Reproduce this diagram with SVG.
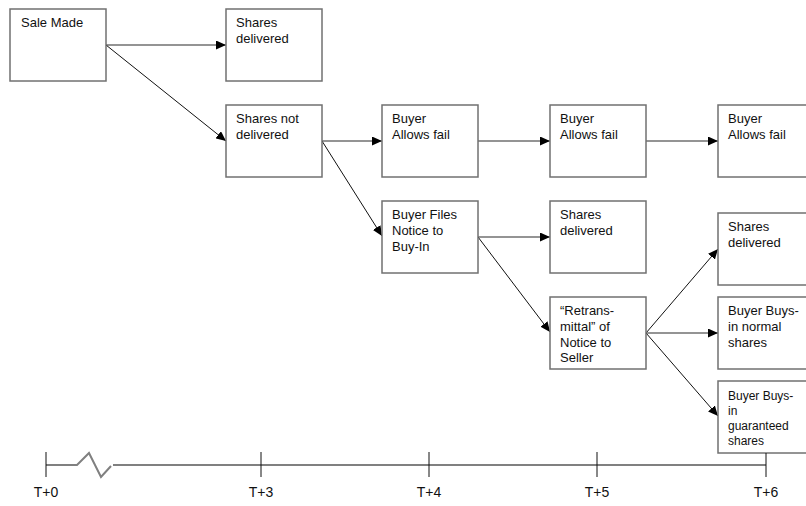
<svg xmlns="http://www.w3.org/2000/svg" width="806" height="506" viewBox="0 0 806 506">
<style>
.box{fill:#fff;stroke:#707070;stroke-width:1.5}
.t{font-family:"Liberation Sans",Arial,sans-serif;font-size:13px;fill:#111}
.s{font-size:12px}
.h{stroke:#707070;stroke-width:1.6;fill:none}
.d{stroke:#111;stroke-width:1;fill:none}
.tick{stroke:#111;stroke-width:1}
.axis{stroke:#808080;stroke-width:2;fill:none}
.lbl{font-family:"Liberation Sans",Arial,sans-serif;font-size:14px;fill:#111;text-anchor:middle}
</style>
<defs>
<marker id="ah" markerUnits="userSpaceOnUse" markerWidth="11" markerHeight="9" refX="10" refY="4.5" orient="auto">
<path d="M0,0 L10,4.5 L0,9 Z" fill="#000"/>
</marker>
</defs>
<rect width="806" height="506" fill="#fff"/>
<g id="connectors">
<line class="h" x1="106" y1="45" x2="226" y2="45" marker-end="url(#ah)"/>
<line class="d" x1="106" y1="45" x2="226" y2="141" marker-end="url(#ah)"/>
<line class="h" x1="322" y1="141" x2="382" y2="141" marker-end="url(#ah)"/>
<line class="d" x1="322" y1="141" x2="382" y2="236" marker-end="url(#ah)"/>
<line class="h" x1="478" y1="141" x2="550" y2="141" marker-end="url(#ah)"/>
<line class="h" x1="646" y1="141" x2="718" y2="141" marker-end="url(#ah)"/>
<line class="h" x1="478" y1="237" x2="550" y2="237" marker-end="url(#ah)"/>
<line class="d" x1="478" y1="237" x2="550" y2="332" marker-end="url(#ah)"/>
<line class="d" x1="646" y1="333" x2="718" y2="249" marker-end="url(#ah)"/>
<line class="h" x1="646" y1="333" x2="718" y2="333" marker-end="url(#ah)"/>
<line class="d" x1="646" y1="333" x2="718" y2="416" marker-end="url(#ah)"/>
</g>
<g id="n-sale"><rect class="box" x="10" y="9" width="96" height="72"/><text class="t" x="21" y="27">Sale Made</text></g>
<g id="n-del1"><rect class="box" x="226" y="9" width="96" height="72"/><text class="t" x="236" y="27">Shares<tspan x="236" dy="15.8">delivered</tspan></text></g>
<g id="n-notdel"><rect class="box" x="226" y="105" width="96" height="72"/><text class="t" x="236" y="123">Shares not<tspan x="236" dy="15.8">delivered</tspan></text></g>
<g id="n-fail1"><rect class="box" x="382" y="105" width="96" height="72"/><text class="t" x="392" y="123">Buyer<tspan x="392" dy="15.8">Allows fail</tspan></text></g>
<g id="n-fail2"><rect class="box" x="550" y="105" width="96" height="72"/><text class="t" x="560" y="123">Buyer<tspan x="560" dy="15.8">Allows fail</tspan></text></g>
<g id="n-fail3"><rect class="box" x="718" y="105" width="96" height="72"/><text class="t" x="728" y="123">Buyer<tspan x="728" dy="15.8">Allows fail</tspan></text></g>
<g id="n-files"><rect class="box" x="382" y="201" width="96" height="72"/><text class="t" x="392" y="219">Buyer Files<tspan x="392" dy="15.8">Notice to</tspan><tspan x="392" dy="15.8">Buy-In</tspan></text></g>
<g id="n-del2"><rect class="box" x="550" y="201" width="96" height="72"/><text class="t" x="560" y="219">Shares<tspan x="560" dy="15.8">delivered</tspan></text></g>
<g id="n-retrans"><rect class="box" x="550" y="297" width="96" height="72"/><text class="t" x="560" y="315">“Retrans-<tspan x="560" dy="15.8">mittal” of</tspan><tspan x="560" dy="15.8">Notice to</tspan><tspan x="560" dy="15.8">Seller</tspan></text></g>
<g id="n-del3"><rect class="box" x="718" y="213" width="96" height="72"/><text class="t" x="728" y="231">Shares<tspan x="728" dy="15.8">delivered</tspan></text></g>
<g id="n-normal"><rect class="box" x="718" y="297" width="96" height="72"/><text class="t" x="728" y="315">Buyer Buys-<tspan x="728" dy="15.8">in normal</tspan><tspan x="728" dy="15.8">shares</tspan></text></g>
<g id="n-guar"><rect class="box" x="718" y="381" width="96" height="72"/><text class="t s" x="728" y="400">Buyer Buys-<tspan x="728" dy="15">in</tspan><tspan x="728" dy="15">guaranteed</tspan><tspan x="728" dy="15">shares</tspan></text></g>
<g id="timeline">
<polyline class="axis" points="46,465 77,465 89,453 101,477 111,466"/>
<line class="axis" x1="113" y1="465" x2="766" y2="465"/>
<line class="tick" x1="46" y1="452" x2="46" y2="477"/>
<line class="tick" x1="261" y1="452" x2="261" y2="477"/>
<line class="tick" x1="429" y1="452" x2="429" y2="477"/>
<line class="tick" x1="597" y1="452" x2="597" y2="477"/>
<line class="tick" x1="766" y1="453" x2="766" y2="477"/>
<text class="lbl" x="46" y="497">T+0</text>
<text class="lbl" x="261" y="497">T+3</text>
<text class="lbl" x="429" y="497">T+4</text>
<text class="lbl" x="597" y="497">T+5</text>
<text class="lbl" x="766" y="497">T+6</text>
</g>
</svg>
